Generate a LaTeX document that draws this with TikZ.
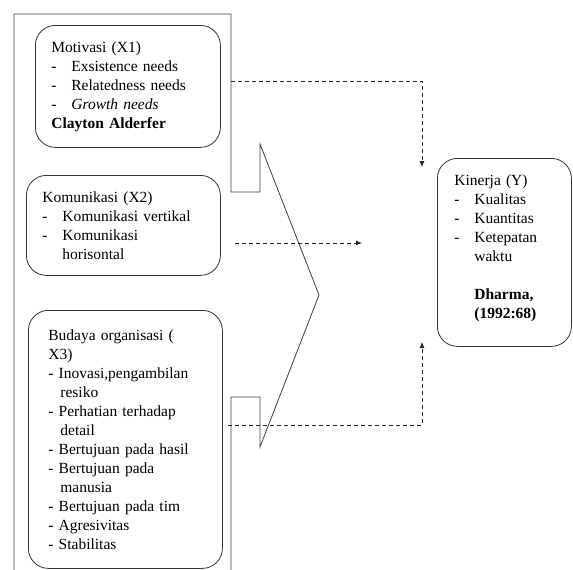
\documentclass[tikz,border=0pt]{standalone}
\usepackage{fontspec}
\setmainfont{Liberation Serif}
\usetikzlibrary{arrows.meta}
\newcommand{\butir}[1]{\makebox[20pt][l]{-}#1}
\tikzset{
  kotak/.style={draw=black!80, line width=0.8pt, rounded corners=20pt,
    anchor=north west, align=left, inner ysep=6pt,
    font=\fontsize{15.5}{19}\selectfont},
  panah/.style={draw=black!85, line width=0.8pt, dash pattern=on 4pt off 3pt,
    -{Latex[length=6pt,width=5pt]}}
}
\begin{document}
\begin{tikzpicture}
[x=1pt, y=-1pt]
\useasboundingbox (0,0) rectangle (573,570);

%________________________________________________%
\draw[black!75, line width=0.8pt] (14,570) -- (14,14) -- (231,14) -- (231,192)
  -- (260,192) -- (260,144) -- (319,295) -- (260,447) -- (260,397)
  -- (231,397) -- (231,570);
%________________________________________________%
\node[kotak, inner xsep=16pt, text width=153pt, minimum height=122pt] (motivasi) at (35,25)
  {Motivasi (X1)\\
   \butir{Exsistence needs}\\
   \butir{Relatedness needs}\\
   \butir{\textit{Growth needs}}\\
   \textbf{Clayton Alderfer}};
%________________________________________________%
\node[kotak, inner xsep=16pt, text width=162pt, minimum height=100pt] (komunikasi) at (26,175)
  {Komunikasi (X2)\\
   \butir{Komunikasi vertikal}\\
   \butir{Komunikasi}\\
   \hspace*{20pt}horisontal};
%________________________________________________%
\node[kotak, inner xsep=20pt, text width=154pt, minimum height=258pt] (budaya) at (28,310)
  {Budaya organisasi (\\
   X3)\\
   - Inovasi,pengambilan\\
   \hspace*{12pt}resiko\\
   - Perhatian terhadap\\
   \hspace*{12pt}detail\\
   - Bertujuan pada hasil\\
   - Bertujuan pada\\
   \hspace*{12pt}manusia\\
   - Bertujuan pada tim\\
   - Agresivitas\\
   - Stabilitas};
%________________________________________________%
\node[kotak, inner xsep=17pt, text width=100pt, minimum height=188pt] (kinerja) at (437,158)
  {Kinerja (Y)\\
   \butir{Kualitas}\\
   \butir{Kuantitas}\\
   \butir{Ketepatan}\\
   \hspace*{20pt}waktu\\[19pt]
   \hspace*{20pt}\textbf{Dharma,}\\
   \hspace*{20pt}\textbf{(1992:68)}\\[-7pt]
   \mbox{}};
%________________________________________________%
\coordinate (x1) at (231,81);
\coordinate (y1) at (422,167);
\coordinate (x2) at (235,243);
\coordinate (y2) at (362,243);
\coordinate (x3) at (228,425);
\coordinate (y3) at (422,342);
\draw[panah] (x1) -| (y1);
\draw[panah] (x2) -- (y2);
\draw[panah] (x3) -| (y3);
%________________________________________________%
\end{tikzpicture}
\end{document}
